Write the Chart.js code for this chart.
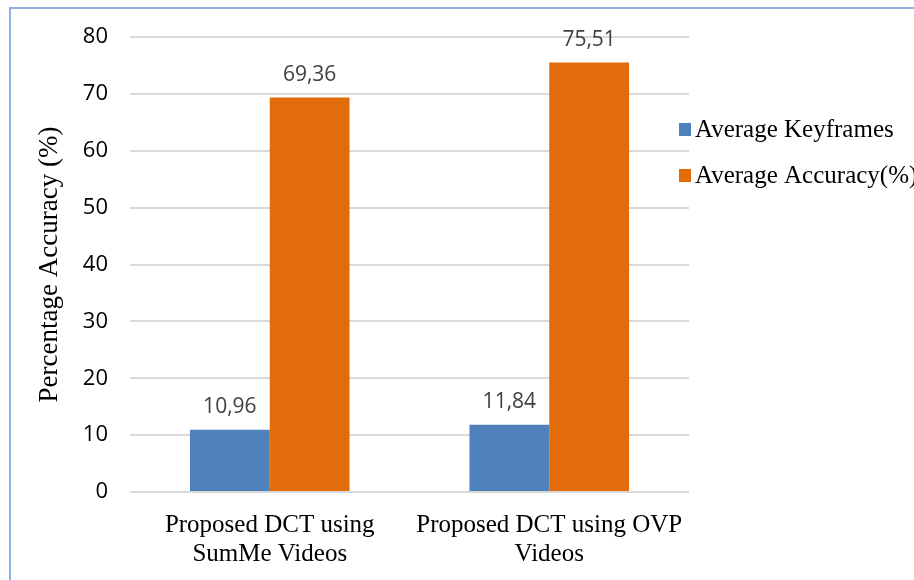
<!DOCTYPE html>
<html>
<head>
<meta charset="utf-8">
<script src="https://cdn.jsdelivr.net/npm/chart.js@4/dist/chart.umd.min.js"></script>
<style>
  html, body { margin: 0; padding: 0; background: #fff; overflow: hidden; }
  #frame {
    position: absolute; left: 9px; top: 7px; width: 1000px; height: 700px;
    border-left: 2px solid #8fb3e0; border-top: 2px solid #8fb3e0;
  }
  #wrap { position: absolute; left: 0; top: 0; width: 914px; height: 580px; }
</style>
</head>
<body>
<div id="frame"></div>
<div id="wrap"><canvas id="chart" width="914" height="580"></canvas></div>
<script>
// Data
const categories = [['Proposed DCT using', 'SumMe Videos'], ['Proposed DCT using OVP', 'Videos']];
const seriesNames = ['Average Keyframes', 'Average Accuracy(%)'];
const keyframes = [10.96, 11.84];
const accuracy = [69.36, 75.51];
const yTicks = [0, 10, 20, 30, 40, 50, 60, 70, 80];

const seriesColors = ['#4f81bd', '#e36c0a'];
const serif = "'Liberation Serif', 'Times New Roman', serif";
const sans = "'Open Sans', 'Liberation Sans', Arial, sans-serif";

// value labels above bars, comma decimal
const valueLabels = {
    id: 'valueLabels',
    afterDatasetsDraw(chart) {
        const ctx = chart.ctx;
        ctx.save();
        ctx.font = '21px ' + sans;
        ctx.fillStyle = '#404040';
        ctx.textAlign = 'center';
        ctx.textBaseline = 'alphabetic';
        chart.data.datasets.forEach((ds, i) => {
            chart.getDatasetMeta(i).data.forEach((bar, j) => {
                const txt = ds.data[j].toFixed(2).replace('.', ',');
                ctx.fillText(txt, bar.x, bar.y - 17);
            });
        });
        ctx.restore();
    }
};

// legend on the right
const sideLegend = {
    id: 'sideLegend',
    afterDraw(chart) {
        const ctx = chart.ctx;
        const area = chart.chartArea;
        ctx.save();
        ctx.font = '25px ' + serif;
        ctx.textBaseline = 'alphabetic';
        chart.data.datasets.forEach((ds, i) => {
            const base = area.top + 100 + i * 46;
            ctx.fillStyle = ds.backgroundColor;
            ctx.fillRect(area.right - 10, base - 14, 12, 13);
            ctx.fillStyle = '#000';
            ctx.fillText(ds.label, area.right + 6, base);
        });
        ctx.restore();
    }
};

new Chart(document.getElementById('chart').getContext('2d'), {
    type: 'bar',
    data: {
        labels: categories,
        datasets: [
            { label: seriesNames[0], data: keyframes, backgroundColor: seriesColors[0] },
            { label: seriesNames[1], data: accuracy, backgroundColor: seriesColors[1] }
        ]
    },
    options: {
        responsive: false,
        animation: false,
        layout: { padding: { top: 37, right: 225, left: 0, bottom: 0 } },
        datasets: { bar: { categoryPercentage: 0.571, barPercentage: 1 } },
        plugins: { legend: { display: false }, tooltip: { enabled: false } },
        scales: {
            x: {
                grid: { display: false },
                border: { display: false },
                ticks: { color: '#000', font: { family: serif, size: 25, lineHeight: 1.16 }, padding: 11, maxRotation: 0 },
                afterFit: s => { s.height = 88; }
            },
            y: {
                min: 0,
                max: 80,
                afterBuildTicks: s => { s.ticks = yTicks.map(v => ({ value: v })); },
                grid: { color: '#d9d9d9', lineWidth: 2, drawTicks: false },
                border: { display: false },
                ticks: { color: '#000', font: { family: sans, size: 22 }, padding: 22 },
                title: {
                    display: true,
                    text: 'Percentage Accuracy (%)',
                    color: '#000',
                    font: { family: serif, size: 27, lineHeight: 1.2 },
                    padding: { top: 34, bottom: 0 }
                },
                afterFit: s => { s.width = 130; }
            }
        }
    },
    plugins: [valueLabels, sideLegend]
});
</script>
</body>
</html>
